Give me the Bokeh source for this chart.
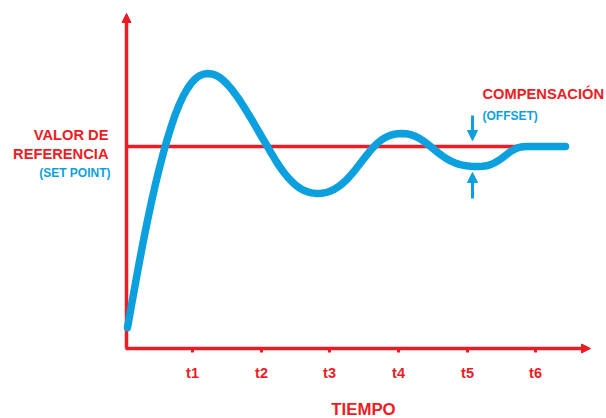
from bokeh.core.properties import value
from bokeh.embed import file_html
from bokeh.models import Arrow, NormalHead, Range1d, ColumnDataSource
from bokeh.plotting import figure
from bokeh.resources import INLINE

RED = "#ED1C24"
BLUE = "#0DA0DF"
FONT = value("Liberation Sans")

# Time (arbitrary units) of the marked instants t1..t6
tick_values = [67, 136, 204, 273, 342, 410]
tick_labels = ["t1", "t2", "t3", "t4", "t5", "t6"]

# Set point level and where the trace ends
set_point = 202.0
time_end = 440

# Closed-loop response of the controlled variable
time = [2, 6, 10, 14, 18, 22, 26, 30, 34, 38, 42, 46, 50, 54, 58, 62, 66, 70, 74, 78,
        82, 86, 90, 94, 98, 102, 106, 110, 114, 118, 122, 126, 130, 134, 138, 142,
        146, 150, 154, 158, 162, 166, 170, 174, 178, 182, 186, 190, 192,
        196, 200, 204, 208, 212, 216, 220, 224, 228, 232, 236, 240, 244, 248, 252,
        256, 260, 264, 268, 272, 276,
        281, 285, 289, 293, 297, 301, 305, 309, 313, 317, 321, 325, 329, 333, 337,
        341, 345, 349, 353,
        357, 361, 365, 369, 373, 377, 381, 385, 389, 393, 397, 401, 405, 440]
response = [21.0, 43.3, 65.5, 87.3, 108.3, 128.1, 146.9, 164.5, 180.9, 196.1,
            210.1, 222.9, 234.7, 244.5, 253.0, 260.0, 265.7, 269.9, 272.7, 274.4,
            275.0, 274.6, 273.4, 271.2, 268.0, 264.0, 259.4, 254.1, 248.5, 242.3,
            235.8, 229.2, 222.4, 215.5, 208.7, 202.0,
            195.0, 188.3, 182.1, 176.5, 171.5, 167.2, 163.5, 160.6, 158.3, 156.7,
            155.6, 155.1, 155.0,
            155.2, 155.9, 157.0, 158.8, 161.2, 164.1, 167.7, 171.9, 176.5, 181.5,
            186.7, 191.9, 196.9, 201.4, 205.4, 208.6, 211.1, 212.9, 214.1, 214.8, 215.0,
            214.7, 213.9, 212.5, 210.6, 208.1, 205.2, 202.0, 198.8, 195.5, 192.5,
            189.8, 187.6, 185.8, 184.4, 183.4, 182.7, 182.3, 182.1, 182.0,
            182.2, 182.7, 183.9, 185.6, 188.0, 190.8, 193.9, 196.9, 199.3, 200.9,
            201.7, 201.9, 202.0, 202.0]

# Offset markers: time position, arrow tails and tips
offset_time = 347
offset_down = (233, 208)
offset_up = (150, 176)

X_TIP = 465
Y_TIP = 335

p = figure(width=606, height=418, output_backend="svg", toolbar_location=None,
           x_range=Range1d(-125, 481), y_range=Range1d(-70, 348),
           min_border=0, background_fill_color="white",
           border_fill_color="white")
p.axis.visible = False
p.grid.visible = False
p.outline_line_color = None

# Axes drawn as arrows from the origin
for xe, ye in [(X_TIP, 0), (1, Y_TIP)]:
    xs = 1 if ye else 0
    p.add_layout(Arrow(end=NormalHead(size=9, fill_color=RED, line_color=RED, line_width=1),
                       x_start=xs, y_start=0, x_end=xe, y_end=ye,
                       line_color=RED, line_width=3.5, level="underlay"))

# Tick marks and labels on the time axis
p.segment(x0=tick_values, y0=[0] * 6, x1=tick_values, y1=[-4] * 6,
          line_color=RED, line_width=3)
p.text(x=tick_values, y=[-24] * 6, text=tick_labels, text_font=FONT,
       text_font_style="bold", text_font_size="14.5px", text_color=RED,
       text_align="center", text_baseline="middle")

# Set point
p.line([1, time_end], [set_point, set_point], line_color=RED, line_width=3.5)

# Process response
src = ColumnDataSource(dict(t=time, y=response))
p.line("t", "y", source=src, line_color=BLUE, line_width=7.5,
       line_cap="round", line_join="round")

# Offset arrows
for (y0, y1) in [offset_down, offset_up]:
    p.add_layout(Arrow(end=NormalHead(size=10, fill_color=BLUE, line_color=BLUE, line_width=1),
                       x_start=offset_time, y_start=y0, x_end=offset_time, y_end=y1,
                       line_color=BLUE, line_width=3))


def label(x, y, txt, color, size, align):
    p.text(x=[x], y=[y], text=[txt], text_font=FONT, text_font_style="bold",
           text_font_size=size, text_color=color, text_align=align,
           text_baseline="middle")


label(-17, 214, "VALOR DE", RED, "14.7px", "right")
label(-17, 195, "REFERENCIA", RED, "14.7px", "right")
label(-15, 176, "(SET POINT)", BLUE, "12px", "right")
label(357, 255, "COMPENSACIÓN", RED, "14.7px", "left")
label(357, 233, "(OFFSET)", BLUE, "12px", "left")
label(238, -61, "TIEMPO", RED, "16.8px", "center")

open("out.html", "w").write(file_html(p, INLINE))
